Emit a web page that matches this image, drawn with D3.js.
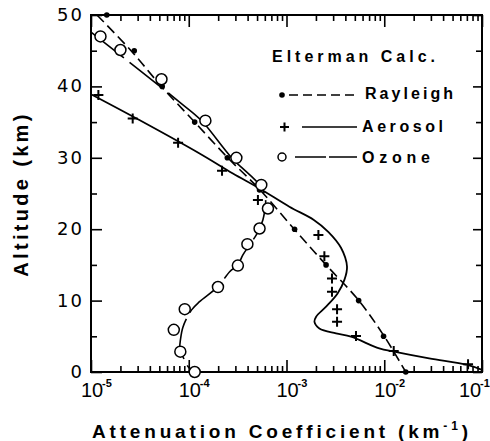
<!DOCTYPE html>
<html>
<head>
<meta charset="utf-8">
<script src="https://cdn.jsdelivr.net/npm/d3@7"></script>
<style>
  body { margin: 0; background: #fff; }
  svg { display: block; }
</style>
</head>
<body>
<div id="chart-area"></div>
<script>
// Attenuation coefficient vs altitude - Elterman calc.

// Rayleigh (dots + short dashed line)
var rayleighAlt = [50, 45, 40, 35, 30, 25.5, 20, 15, 10, 5, 0];
var rayleighVal = [1.45e-5, 2.77e-5, 5.35e-5, 1.15e-4, 2.48e-4, 5.3e-4, 1.21e-3, 2.54e-3, 5.47e-3, 9.84e-3, 1.66e-2];
var rayleighLineAlt = [50, 45, 40, 35, 30, 25.5, 20, 15, 10, 5, 0];
var rayleighLineVal = [1.15e-5, 2.57e-5, 5.25e-5, 1.15e-4, 2.51e-4, 5.37e-4, 1.2e-3, 2.54e-3, 5.5e-3, 1.0e-2, 1.66e-2];

// Aerosol (plus + solid line)
var aerosolAlt = [38.8, 35.5, 32.1, 28.2, 24.1, 19.2, 16.2, 13.1, 11.25, 8.8, 7.05, 5.04, 2.94, 1.1];
var aerosolVal = [1.19e-5, 2.67e-5, 7.78e-5, 2.19e-4, 5.1e-4, 2.12e-3, 2.44e-3, 2.92e-3, 2.92e-3, 3.29e-3, 3.29e-3, 5.14e-3, 1.25e-2, 7.2e-2];
var aerosolLineAlt = [38.9, 35.25, 30.6, 27.8, 25.7, 23.15, 21.3, 19.6, 17.4, 14.75, 12.9, 11.0, 9.15, 7.75, 7.05, 6.1, 5.4, 4.95, 3.3, 2.85, 1.9, 1.0, 0.3];
var aerosolLineVal = [1e-5, 3.16e-5, 1.29e-4, 2.83e-4, 5.3e-4, 1.07e-3, 1.905e-3, 2.69e-3, 3.61e-3, 4.16e-3, 3.91e-3, 3.33e-3, 2.54e-3, 2.01e-3, 1.93e-3, 2.17e-3, 3.21e-3, 4.57e-3, 8.89e-3, 1.26e-2, 2.88e-2, 7.08e-2, 1e-1];

// Ozone (open circles + long dashed line)
var ozoneAlt = [47.0, 45.1, 41.0, 35.2, 30.0, 26.2, 22.9, 20.1, 17.9, 14.9, 11.9, 8.8, 5.9, 2.85, 0];
var ozoneVal = [1.25e-5, 2.0e-5, 5.26e-5, 1.48e-4, 3.07e-4, 5.52e-4, 6.46e-4, 5.3e-4, 3.98e-4, 3.18e-4, 1.99e-4, 9.1e-5, 7.03e-5, 8.2e-5, 1.15e-4];
var ozoneLineAlt = [47.6, 37.6, 35.2, 30, 25.9, 24.1, 22.45, 21.3, 20.1, 19.2, 17.8, 16.4, 15.0, 14.05, 11.95, 9.85, 8.7, 6.35, 4.5, 3.3, 2.6, 0.75, 0];
var ozoneLineVal = [1e-5, 8.41e-5, 1.35e-4, 2.75e-4, 5.52e-4, 6.11e-4, 5.97e-4, 5.73e-4, 5.3e-4, 4.91e-4, 4.19e-4, 3.58e-4, 3.18e-4, 2.62e-4, 1.99e-4, 1.29e-4, 1.07e-4, 8.75e-5, 8.22e-5, 8.09e-5, 8.43e-5, 9.84e-5, 1.1e-4];

// axis ticks
var xMajor = [1e-5, 1e-4, 1e-3, 1e-2, 1e-1];
var xExp = ["-5", "-4", "-3", "-2", "-1"];
var yMajor = [0, 10, 20, 30, 40, 50];
var yMinor = [5, 15, 25, 35, 45];

var W = 490, H = 441;
var plot = {left: 91, right: 482, top: 15, bottom: 372};

var svg = d3.select("#chart-area")
  .append("svg")
    .attr("width", W)
    .attr("height", H);

var x = d3.scaleLog().domain([1e-5, 1e-1]).range([plot.left, plot.right]);
var y = d3.scaleLinear().domain([0, 50]).range([plot.bottom, plot.top]);

var xMinor = [];
xMajor.slice(0, -1).forEach(function(d) {
  for (var k = 2; k <= 9; k++) xMinor.push(d * k);
});

// ticks, all pointing inward
function tickAxis(axis, transform, values, size) {
  var g = svg.append("g")
    .attr("transform", transform)
    .call(axis.tickValues(values).tickSize(size).tickFormat(""));
  g.select(".domain").remove();
  g.selectAll(".tick line").attr("stroke", "#000").attr("stroke-width", 1.6);
}
tickAxis(d3.axisBottom(x), "translate(0," + plot.bottom + ")", xMajor, -12);
tickAxis(d3.axisBottom(x), "translate(0," + plot.bottom + ")", xMinor, -6);
tickAxis(d3.axisTop(x), "translate(0," + plot.top + ")", xMajor, -12);
tickAxis(d3.axisTop(x), "translate(0," + plot.top + ")", xMinor, -6);
tickAxis(d3.axisLeft(y), "translate(" + plot.left + ",0)", yMajor, -11);
tickAxis(d3.axisLeft(y), "translate(" + plot.left + ",0)", yMinor, -6);
tickAxis(d3.axisRight(y), "translate(" + plot.right + ",0)", yMajor, -9);
tickAxis(d3.axisRight(y), "translate(" + plot.right + ",0)", yMinor, -6);

svg.append("rect")
  .attr("x", plot.left).attr("y", plot.top)
  .attr("width", plot.right - plot.left).attr("height", plot.bottom - plot.top)
  .attr("fill", "none").attr("stroke", "#000").attr("stroke-width", 2);

// tick labels
svg.selectAll(".ylab")
  .data(yMajor)
  .enter().append("text")
    .attr("x", 84)
    .attr("y", function(d) { return y(d) + 6; })
    .attr("text-anchor", "end")
    .attr("font-family", "DejaVu Sans")
    .attr("font-size", "18px")
    .attr("letter-spacing", "2px")
    .text(function(d) { return d; });

xMajor.forEach(function(d, i) {
  var cx = x(d) + 1;
  if (i == xMajor.length - 1) cx = x(d) - 12;
  svg.append("text")
    .attr("x", cx).attr("y", 397)
    .attr("text-anchor", "middle")
    .attr("font-family", "Liberation Sans")
    .attr("font-size", "20px")
    .text("10");
  svg.append("text")
    .attr("x", cx + 10).attr("y", 387)
    .attr("font-family", "Liberation Sans")
    .attr("font-weight", "bold")
    .attr("font-size", "11px")
    .text(xExp[i]);
});

// stretch letter spacing so a text covers the wanted width
function fitWidth(t, target) {
  var n = t.text().length;
  var len = t.node().getComputedTextLength();
  if (n > 1) t.attr("letter-spacing", ((target - len) / (n - 1)) + "px");
}

var xTitle = svg.append("text")
  .attr("x", 92).attr("y", 437.5)
  .attr("font-family", "Liberation Sans")
  .attr("font-weight", "bold")
  .attr("font-size", "19px");
xTitle.append("tspan").text("Attenuation Coefficient (km");
xTitle.append("tspan").attr("font-size", "12px").attr("dy", -8).text("-1");
xTitle.append("tspan").attr("dy", 8).text(")");
fitWidth(xTitle, 376);

var yTitle = svg.append("text")
  .attr("transform", "translate(28,194) rotate(-90)")
  .attr("text-anchor", "middle")
  .attr("font-family", "Liberation Sans")
  .attr("font-weight", "bold")
  .attr("font-size", "20px")
  .text("Altitude (km)");
fitWidth(yTitle, 162);

// lines
function lineOf(vals, alts) {
  return d3.line()
    .x(function(d, i) { return x(vals[i]); })
    .y(function(d, i) { return y(alts[i]); })
    .curve(d3.curveCatmullRom)(alts);
}

svg.append("path")
  .attr("d", lineOf(rayleighLineVal, rayleighLineAlt))
  .attr("fill", "none").attr("stroke", "#000").attr("stroke-width", 1.6)
  .attr("stroke-dasharray", "10,5");

svg.append("path")
  .attr("d", lineOf(aerosolLineVal, aerosolLineAlt))
  .attr("fill", "none").attr("stroke", "#000").attr("stroke-width", 1.8);

svg.append("path")
  .attr("d", lineOf(ozoneLineVal, ozoneLineAlt))
  .attr("fill", "none").attr("stroke", "#000").attr("stroke-width", 1.6)
  .attr("stroke-dasharray", "42,7");

// markers
svg.selectAll(".ray")
  .data(rayleighAlt)
  .enter().append("circle")
    .attr("cx", function(d, i) { return x(rayleighVal[i]); })
    .attr("cy", function(d) { return y(d); })
    .attr("r", 2.8)
    .attr("fill", "#000");

svg.selectAll(".aer")
  .data(aerosolAlt)
  .enter().append("path")
    .attr("d", function(d, i) {
      var px = x(aerosolVal[i]), py = y(d);
      return "M" + (px - 5) + "," + py + "H" + (px + 5) + "M" + px + "," + (py - 5) + "V" + (py + 5);
    })
    .attr("stroke", "#000").attr("stroke-width", 2);

svg.selectAll(".ozo")
  .data(ozoneAlt)
  .enter().append("circle")
    .attr("cx", function(d, i) { return x(ozoneVal[i]); })
    .attr("cy", function(d) { return y(d); })
    .attr("r", 5.5)
    .attr("fill", "#fff")
    .attr("stroke", "#000").attr("stroke-width", 1.5);

// legend
var lt = svg.append("text")
  .attr("x", 272).attr("y", 62)
  .attr("font-family", "Liberation Sans").attr("font-weight", "bold")
  .attr("font-size", "16px")
  .text("Elterman Calc.");
fitWidth(lt, 163);

svg.append("circle").attr("cx", 282).attr("cy", 95).attr("r", 2.8).attr("fill", "#000");
svg.append("line").attr("x1", 289).attr("x2", 357).attr("y1", 95).attr("y2", 95)
  .attr("stroke", "#000").attr("stroke-width", 1.6).attr("stroke-dasharray", "9,5");
var l1 = svg.append("text").attr("x", 365).attr("y", 99)
  .attr("font-family", "Liberation Sans").attr("font-weight", "bold")
  .attr("font-size", "16px").text("Rayleigh");
fitWidth(l1, 88);

svg.append("path").attr("d", "M280,127H289M284.5,122.5V131.5")
  .attr("stroke", "#000").attr("stroke-width", 2);
svg.append("line").attr("x1", 302).attr("x2", 357).attr("y1", 127).attr("y2", 127)
  .attr("stroke", "#000").attr("stroke-width", 1.6);
var l2 = svg.append("text").attr("x", 362).attr("y", 132)
  .attr("font-family", "Liberation Sans").attr("font-weight", "bold")
  .attr("font-size", "16px").text("Aerosol");
fitWidth(l2, 81);

svg.append("circle").attr("cx", 282).attr("cy", 157).attr("r", 4)
  .attr("fill", "#fff").attr("stroke", "#000").attr("stroke-width", 1.5);
svg.append("line").attr("x1", 295).attr("x2", 357).attr("y1", 157).attr("y2", 157)
  .attr("stroke", "#000").attr("stroke-width", 1.6).attr("stroke-dasharray", "31,3");
var l3 = svg.append("text").attr("x", 362).attr("y", 163)
  .attr("font-family", "Liberation Sans").attr("font-weight", "bold")
  .attr("font-size", "16px").text("Ozone");
fitWidth(l3, 68);
</script>
</body>
</html>
